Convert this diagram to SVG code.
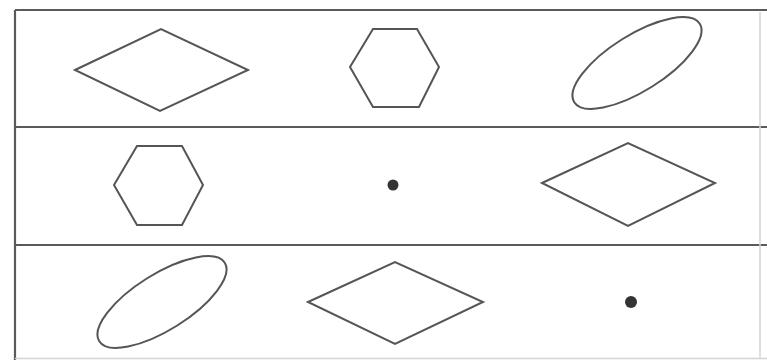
<svg xmlns="http://www.w3.org/2000/svg" width="767" height="360" viewBox="0 0 767 360">
<style>
.frame{fill:none;stroke:#5a5a5a;stroke-width:2.2}
.faint{fill:none;stroke:#d4d4d4;stroke-width:1.5}
.shape{fill:none;stroke:#555;stroke-width:2}
.dot{fill:#333}
</style>
<rect width="767" height="360" fill="#fff"/>
<g id="frame">
<path class="frame" d="M15,10 H767 M15,127 H767 M15,245 H767 M15,10 V360"/>
<path class="faint" d="M15,358.5 H767 M760,12 V358"/>
</g>
<g id="row1">
<polygon class="shape" points="75,70 161,29 248,70 160,111"/>
<polygon class="shape" points="350,67 373,29 417,29 439,67 419,107 373,107"/>
<ellipse class="shape" cx="637" cy="63" rx="74" ry="28" transform="rotate(-32 637 63)"/>
</g>
<g id="row2">
<polygon class="shape" points="114,185 137,146 182,146 203,185 182,225 137,225"/>
<circle class="dot" cx="393" cy="185" r="5.5"/>
<polygon class="shape" points="542,183 628,143 715,183 628,226"/>
</g>
<g id="row3">
<ellipse class="shape" cx="162" cy="302" rx="74" ry="28" transform="rotate(-32 162 302)"/>
<polygon class="shape" points="308,302 395,262 483,302 395,344"/>
<circle class="dot" cx="631" cy="302" r="6"/>
</g>
</svg>
